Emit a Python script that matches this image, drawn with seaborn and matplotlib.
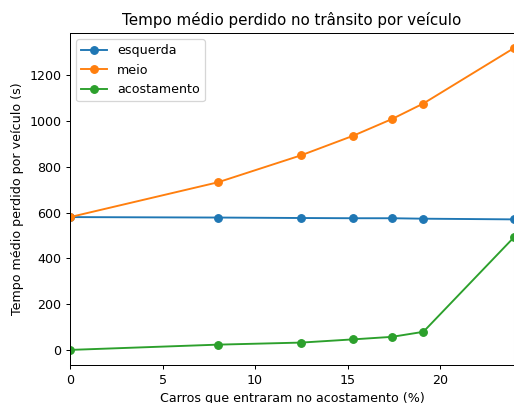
import pandas as pd
import seaborn as sns
import matplotlib.pyplot as plt

## dados
carros = [0, 8.0, 12.5, 15.3, 17.4, 19.1, 24.0]
esquerda = [580, 578, 576, 575, 575, 573, 570]
meio = [580, 732, 850, 935, 1008, 1076, 1318]
acostamento = [0, 23, 32, 46, 57, 79, 492]

series = {"esquerda": esquerda, "meio": meio, "acostamento": acostamento}
cores = ["#1f77b4", "#ff7f0e", "#2ca02c"]

DPI = 91
fig = plt.figure(figsize=(514 / DPI, 403 / DPI), dpi=DPI)
ax = fig.add_axes([70 / 514, 1 - 365 / 403, 444 / 514, (365 - 33) / 403])

for (nome, valores), cor in zip(series.items(), cores):
    df = pd.DataFrame({"x": carros, "y": valores})
    sns.lineplot(data=df, x="x", y="y", ax=ax, color=cor, marker="o",
                 markersize=6, markeredgecolor=cor, markeredgewidth=1,
                 linewidth=1.5, label=nome, sort=False)

ax.set_xlim(0, 24)
ax.set_title("Tempo médio perdido no trânsito por veículo")
ax.set_xlabel("Carros que entraram no acostamento (%)")
ax.set_ylabel("Tempo médio perdido por veículo (s)")
ax.legend(loc="upper left")

plt.savefig("out.png", dpi=DPI)
